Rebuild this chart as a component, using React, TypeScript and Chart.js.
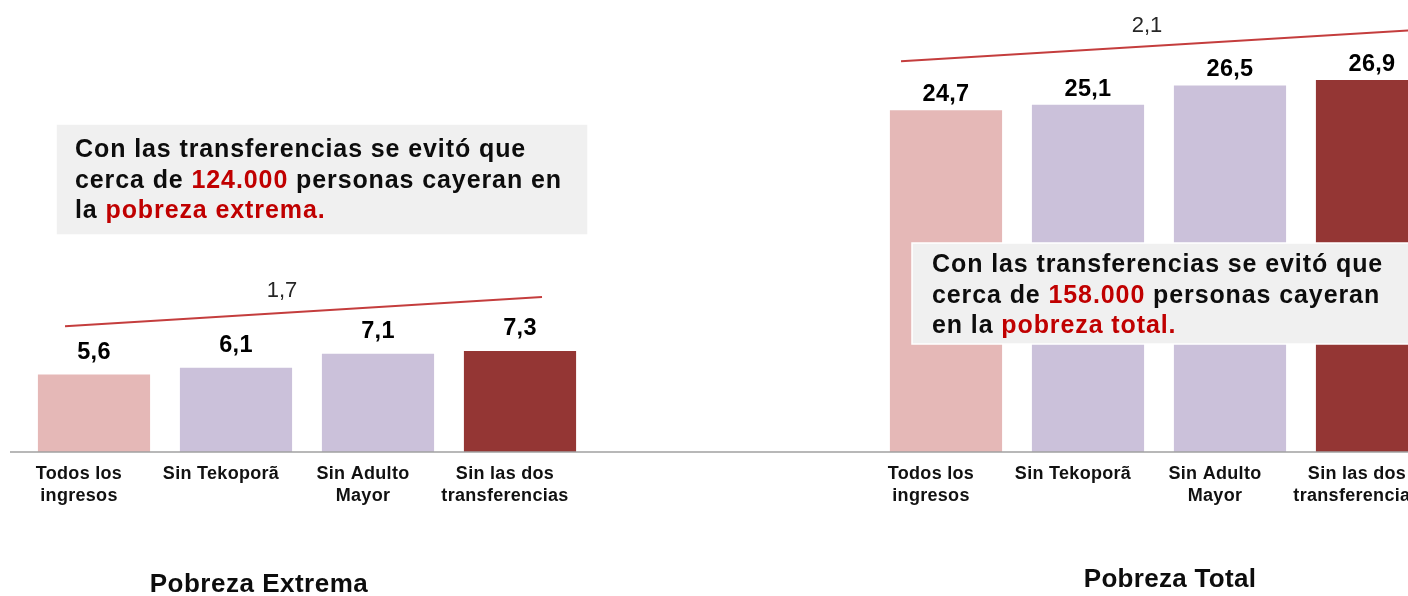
import React, { useEffect, useRef } from 'react';
import { Chart, registerables } from 'chart.js';

Chart.register(...registerables);

// ---------- data ----------
const scenarioLabels: (string | string[])[] = [
  ['Todos los', 'ingresos'],
  'Sin Tekoporã',
  ['Sin Adulto', 'Mayor'],
  ['Sin las dos', 'transferencias'],
];
const pobrezaExtrema = [5.6, 6.1, 7.1, 7.3];
const pobrezaTotal = [24.7, 25.1, 26.5, 26.9];
const panelTitles = ['Pobreza Extrema', 'Pobreza Total'];
const diffLabels = ['1,7', '2,1'];
const scenarioColors = ['#e5b8b7', '#cbc1da', '#cbc1da', '#943634'];

const boxExtrema: [string, boolean][][] = [
  [['Con las transferencias se evitó que', false]],
  [['cerca de ', false], ['124.000', true], [' personas cayeran en', false]],
  [['la ', false], ['pobreza extrema.', true]],
];
const boxTotal: [string, boolean][][] = [
  [['Con las transferencias se evitó que', false]],
  [['cerca de ', false], ['158.000', true], [' personas cayeran', false]],
  [['en la ', false], ['pobreza total.', true]],
];

// combined category axis: 4 bars, 2 empty slots, 4 bars
const labels = [...scenarioLabels, '', '', ...scenarioLabels];
const values: (number | null)[] = [...pobrezaExtrema, null, null, ...pobrezaTotal];
const colors = [...scenarioColors, '#ffffff', '#ffffff', ...scenarioColors];

const FONT = '"Liberation Sans", Arial, Helvetica, sans-serif';
const fmt = (v: number) => v.toFixed(1).replace('.', ',');

const overlayPlugin = {
  id: 'overlay',
  beforeDraw(chart: any) {
    (chart.ctx as any).letterSpacing = '0.3px';
  },
  afterDatasetsDraw(chart: any) {
    const ctx = chart.ctx as CanvasRenderingContext2D & { letterSpacing?: string };
    const x = chart.scales.x;
    const y = chart.scales.y;
    const base = y.getPixelForValue(0);

    // axis line
    ctx.save();
    ctx.strokeStyle = '#a0a0a0';
    ctx.lineWidth = 1.5;
    ctx.beginPath();
    ctx.moveTo(10, base);
    ctx.lineTo(chart.width, base);
    ctx.stroke();
    ctx.restore();

    // value labels
    const meta = chart.getDatasetMeta(0);
    ctx.save();
    ctx.letterSpacing = '0.3px';
    ctx.font = `bold 23.5px ${FONT}`;
    ctx.fillStyle = '#000000';
    ctx.textAlign = 'center';
    ctx.textBaseline = 'alphabetic';
    meta.data.forEach((bar: any, i: number) => {
      const v = values[i];
      if (v == null) return;
      const off = i < 4 ? 16 : 9;
      ctx.fillText(fmt(v), bar.x, bar.y - off);
    });
    ctx.restore();

    // difference lines
    const lines = [
      { from: 0, to: 3, dx0: -29, dx1: 22, v0: 9.1, v1: 11.2, lx: 282, lOff: 16 },
      { from: 6, to: 9, dx0: -45, dx1: 40, v0: 28.25, v1: 30.49, lx: 1147, lOff: 14 },
    ];
    lines.forEach((l, k) => {
      const x0 = x.getPixelForValue(l.from) + l.dx0;
      const x1 = x.getPixelForValue(l.to) + l.dx1;
      const y0 = y.getPixelForValue(l.v0);
      const y1 = y.getPixelForValue(l.v1);
      ctx.save();
      ctx.strokeStyle = '#c43d3d';
      ctx.lineWidth = 2;
      ctx.beginPath();
      ctx.moveTo(x0, y0);
      ctx.lineTo(x1, y1);
      ctx.stroke();
      const ly = y0 + ((l.lx - x0) / (x1 - x0)) * (y1 - y0) - l.lOff;
      ctx.letterSpacing = '0px';
      ctx.font = `22px ${FONT}`;
      ctx.fillStyle = '#262626';
      ctx.textAlign = 'center';
      ctx.fillText(diffLabels[k], l.lx, ly);
      ctx.restore();
    });

    // annotation boxes
    const drawBox = (
      rows: [string, boolean][][],
      bx: number, by: number, bw: number, bh: number,
      tx: number, ty: number
    ) => {
      ctx.save();
      ctx.fillStyle = '#f0f0f0';
      ctx.fillRect(bx, by, bw, bh);
      ctx.strokeStyle = '#ffffff';
      ctx.lineWidth = 1.5;
      ctx.strokeRect(bx, by, bw, bh);
      ctx.font = `bold 25px ${FONT}`;
      ctx.letterSpacing = '0.9px';
      ctx.textAlign = 'left';
      ctx.textBaseline = 'alphabetic';
      rows.forEach((row, r) => {
        let cx = tx;
        row.forEach(([t, red]) => {
          ctx.fillStyle = red ? '#c00000' : '#0d0d0d';
          ctx.fillText(t, cx, ty + r * 30.5);
          cx += ctx.measureText(t).width;
        });
      });
      ctx.restore();
    };
    drawBox(boxExtrema, 56, 124, 532, 111, 75, 157);
    drawBox(boxTotal, 912, 243, 510, 101, 932, 272);

    // panel titles
    ctx.save();
    ctx.fillStyle = '#0d0d0d';
    ctx.textAlign = 'center';
    ctx.textBaseline = 'alphabetic';
    ctx.font = `bold 26px ${FONT}`;
    ctx.letterSpacing = '0.5px';
    ctx.fillText(panelTitles[0], 259, 592);
    ctx.letterSpacing = '0.3px';
    ctx.fillText(panelTitles[1], 1170, 587);
    ctx.restore();
  },
};

export default function App() {
  const ref = useRef<HTMLCanvasElement | null>(null);

  useEffect(() => {
    if (!ref.current) return;
    const chart = new Chart(ref.current, {
      type: 'bar',
      data: {
        labels,
        datasets: [
          {
            data: values,
            backgroundColor: colors,
            borderWidth: 0,
            barPercentage: 0.79,
            categoryPercentage: 1,
          },
        ],
      },
      options: {
        animation: false,
        responsive: false,
        layout: { padding: { left: 23, right: 17, top: 0, bottom: 0 } },
        plugins: {
          legend: { display: false },
          tooltip: { enabled: false },
          title: { display: false },
        },
        scales: {
          x: {
            offset: true,
            grid: { display: false, drawTicks: false },
            border: { display: false },
            ticks: {
              autoSkip: false,
              maxRotation: 0,
              minRotation: 0,
              padding: 11,
              labelOffset: -15,
              color: '#111111',
              font: { family: FONT, size: 18, weight: 'bold', lineHeight: '22px' },
            },
            afterFit: (s: any) => {
              s.height = 144;
            },
          },
          y: { display: false, min: 0, max: 32.68 },
        },
      },
      plugins: [overlayPlugin],
    } as any);
    return () => chart.destroy();
  }, []);

  return (
    <div
      style={{
        position: 'fixed',
        left: 0,
        top: 0,
        width: 1408,
        height: 596,
        overflow: 'hidden',
        background: '#ffffff',
      }}
    >
      <canvas ref={ref} width={1460} height={596} style={{ display: 'block' }} />
    </div>
  );
}
